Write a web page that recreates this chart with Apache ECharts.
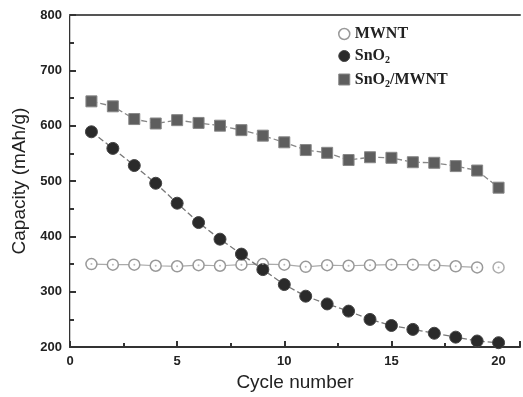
<!DOCTYPE html>
<html><head><meta charset="utf-8">
<script src="https://cdn.jsdelivr.net/npm/echarts@6/dist/echarts.min.js"></script>
<style>html,body{margin:0;padding:0;background:#fff}#c{width:523px;height:397px}</style>
</head><body><div id="c"></div>
<script>
const cycles = [1,2,3,4,5,6,7,8,9,10,11,12,13,14,15,16,17,18,19,20];
const mwnt = [350,349,349,347,346,348,347,349,350,349,345,348,347,348,349,349,348,346,344,344];
const sno2 = [589,559,528,496,460,425,395,368,340,313,292,278,265,250,239,232,225,218,211,208];
const sno2Mwnt = [644,635,612,604,610,605,600,592,582,570,556,551,538,543,542,534,533,527,519,488];
const yTicks = [200,300,400,500,600,700,800];
const xTicks = [0,5,10,15,20];

const pairs = (ys) => cycles.map((c,i) => [c, ys[i]]);
const mwntLine = cycles.map((c,i) => [c, i < cycles.length-1 ? mwnt[i] : null]);
const mwntLast = [[cycles[cycles.length-1], mwnt[mwnt.length-1]]];

const chart = echarts.init(document.getElementById('c'));
const lblFont = {fontFamily:'Liberation Sans, Arial, sans-serif', fontWeight:'bold', fontSize:13, color:'#222'};
const serif = 'Liberation Serif, Times New Roman, serif';
chart.setOption({
  animation:false,
  grid:{left:70, top:15, right:1, bottom:48},
  legend:{
    left:333, top:21, orient:'vertical', itemGap:6, itemWidth:11, itemHeight:11,
    data:[
      {name:'MWNT', icon:'circle', itemStyle:{color:'#fff', borderColor:'#999', borderWidth:1.5}},
      {name:'SnO2', icon:'circle', itemStyle:{color:'#2a2a2a', borderColor:'#444', borderWidth:1}},
      {name:'SnO2/MWNT', icon:'rect', itemStyle:{color:'#5e5e5e', borderColor:'#888', borderWidth:1}}
    ],
    formatter: n => n==='MWNT' ? '{b|MWNT}' : (n==='SnO2' ? '{b|SnO}{s|2}' : '{b|SnO}{s|2}{b|/MWNT}'),
    textStyle:{rich:{
      b:{fontFamily:serif, fontWeight:'bold', fontSize:16, color:'#222'},
      s:{fontFamily:serif, fontWeight:'bold', fontSize:10, color:'#222', padding:[9,0,0,0]}
    }}
  },
  xAxis:[{
    type:'value', min:0, max:21, interval:5,
    name:'Cycle number', nameLocation:'middle', nameGap:25,
    nameTextStyle:{fontFamily:'Liberation Sans, Arial, sans-serif', fontSize:19, color:'#222'},
    axisLine:{lineStyle:{color:'#333', width:2}},
    axisTick:{inside:true, length:6, lineStyle:{color:'#333', width:2}},
    minorTick:{show:true, splitNumber:2, length:4, lineStyle:{color:'#333', width:2}},
    splitLine:{show:false},
    axisLabel:Object.assign({margin:8, formatter: v => xTicks.includes(v) ? String(v) : ''}, lblFont)
  },{
    type:'value', min:0, max:21, position:'top',
    axisLine:{show:true, lineStyle:{color:'#555', width:2}},
    axisTick:{show:false}, axisLabel:{show:false}, splitLine:{show:false}
  }],
  yAxis:[{
    type:'value', min:200, max:800, interval:100,
    name:'Capacity (mAh/g)', nameLocation:'middle', nameGap:36,
    nameTextStyle:{fontFamily:'Liberation Sans, Arial, sans-serif', fontSize:19, color:'#222'},
    axisLine:{show:true, lineStyle:{color:'#333', width:2}},
    axisTick:{show:true, inside:true, length:6, lineStyle:{color:'#333', width:2}},
    minorTick:{show:true, splitNumber:2, length:4, lineStyle:{color:'#333', width:2}},
    splitLine:{show:false},
    axisLabel:Object.assign({margin:8, formatter: v => yTicks.includes(v) ? String(v) : ''}, lblFont)
  },{
    type:'value', min:200, max:800, position:'right',
    axisLine:{show:true, lineStyle:{color:'#c8c8c8', width:1}},
    axisTick:{show:false}, axisLabel:{show:false}, splitLine:{show:false}
  }],
  series:[
    {name:'MWNT', type:'line', data:mwntLine, symbol:'circle', symbolSize:11, connectNulls:false,
     lineStyle:{color:'#aaa', width:1.2}, itemStyle:{color:'#fff', borderColor:'#999', borderWidth:1.5}, z:3},
    {name:'MWNT', type:'scatter', data:mwntLast, symbol:'circle', symbolSize:11,
     itemStyle:{color:'#fff', borderColor:'#999', borderWidth:1.5}, z:3},
    {name:'MWNT-dot', type:'scatter', data:pairs(mwnt), symbol:'circle', symbolSize:2,
     itemStyle:{color:'#aaa'}, z:4, legendHoverLink:false},
    {name:'SnO2', type:'line', data:pairs(sno2), symbol:'circle', symbolSize:12,
     lineStyle:{color:'#777', width:1.3, type:[6,3]}, itemStyle:{color:'#2a2a2a', borderColor:'#444', borderWidth:1}, z:3},
    {name:'SnO2/MWNT', type:'line', data:pairs(sno2Mwnt), symbol:'rect', symbolSize:11,
     lineStyle:{color:'#888', width:1.3, type:[6,3]}, itemStyle:{color:'#5e5e5e', borderColor:'#888', borderWidth:1}, z:3}
  ]
});
</script></body></html>
